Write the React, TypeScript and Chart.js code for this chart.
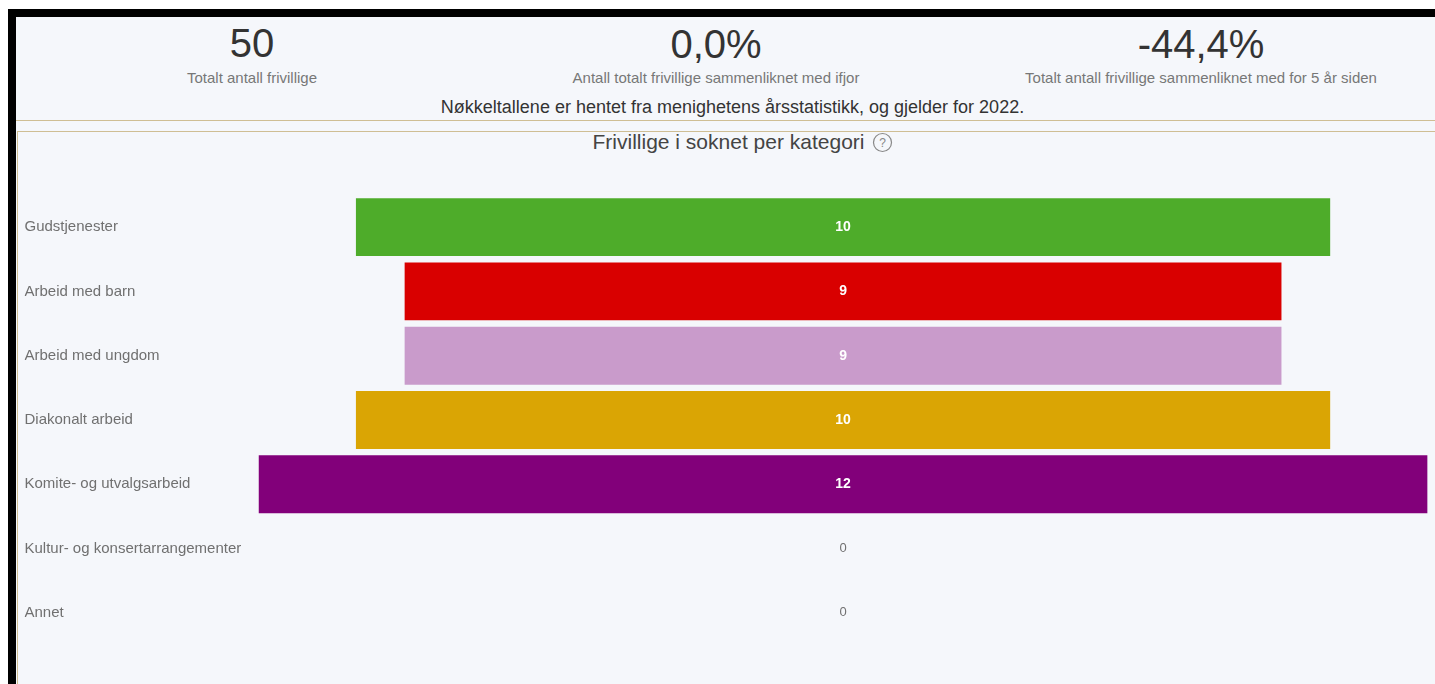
import React, { useEffect, useRef } from "react";
import { Chart, registerables } from "chart.js";

Chart.register(...registerables);

const categories = [
  "Gudstjenester",
  "Arbeid med barn",
  "Arbeid med ungdom",
  "Diakonalt arbeid",
  "Komite- og utvalgsarbeid",
  "Kultur- og konsertarrangementer",
  "Annet",
];
const values = [10, 9, 9, 10, 12, 0, 0];
const barColors = ["#4EAC2A", "#D90000", "#C99BCB", "#DAA504", "#82007A", "#777777", "#777777"];

const kpis = [
  { value: "50", label: "Totalt antall frivillige", x: 252, vy: 43, ly: 77 },
  { value: "0,0%", label: "Antall totalt frivillige sammenliknet med ifjor", x: 716, vy: 44, ly: 77 },
  { value: "-44,4%", label: "Totalt antall frivillige sammenliknet med for 5 år siden", x: 1201, vy: 44, ly: 77 },
];
const note = "Nøkkeltallene er hentet fra menighetens årsstatistikk, og gjelder for 2022.";
const chartTitle = "Frivillige i soknet per kategori";
const FONT = '"Liberation Sans", Arial, sans-serif';

const centeredLabels = {
  id: "centeredLabels",
  afterDatasetsDraw(chart: any) {
    const { ctx } = chart;
    const meta = chart.getDatasetMeta(0);
    ctx.save();
    ctx.textAlign = "center";
    ctx.textBaseline = "middle";
    meta.data.forEach((bar: any, i: number) => {
      const v = values[i];
      ctx.fillStyle = v === 0 ? "#707070" : "#ffffff";
      ctx.font = `${v === 0 ? "normal 13px" : "bold 14px"} ${FONT}`;
      ctx.fillText(String(v), chart.scales.x.getPixelForValue(0), bar.y);
    });
    ctx.restore();
  },
};

function Text({ x, y, size, color, children }: any) {
  return (
    <div
      style={{
        position: "absolute",
        left: x,
        top: y,
        transform: "translate(-50%, -50%)",
        whiteSpace: "nowrap",
        fontSize: size,
        color,
        fontFamily: FONT,
        lineHeight: 1,
      }}
    >
      {children}
    </div>
  );
}

export default function App() {
  const ref = useRef<HTMLCanvasElement | null>(null);

  useEffect(() => {
    document.body.style.margin = "0";
    document.body.style.background = "#ffffff";
    document.body.style.overflow = "hidden";
    const chart = new Chart(ref.current as HTMLCanvasElement, {
      type: "bar",
      data: {
        labels: categories,
        datasets: [
          {
            data: values.map((v) => [-v / 2, v / 2]) as any,
            backgroundColor: barColors,
            borderWidth: 0,
            barPercentage: 0.9,
            categoryPercentage: 1,
          },
        ],
      },
      options: {
        indexAxis: "y",
        animation: false,
        responsive: false,
        maintainAspectRatio: false,
        layout: { padding: { left: 7.5, right: 7.4, top: 63, bottom: 39 } },
        plugins: { legend: { display: false }, tooltip: { enabled: false } },
        scales: {
          x: { display: false, min: -6, max: 6 },
          y: {
            border: { display: false },
            grid: { display: false, drawTicks: false },
            afterFit: (scale: any) => {
              scale.width = 234;
            },
            ticks: {
              crossAlign: "far",
              padding: 0,
              color: "#707070",
              font: { family: FONT, size: 15 },
            },
          },
        },
      },
      plugins: [centeredLabels],
    });
    return () => chart.destroy();
  }, []);

  return (
    <div style={{ position: "relative", width: 1435, height: 684, overflow: "hidden", background: "#fff" }}>
      <div style={{ position: "absolute", left: 8, top: 9, width: 1427, height: 675, background: "#000" }} />
      <div style={{ position: "absolute", left: 16, top: 17, width: 1419, height: 667, background: "#F5F7FB" }} />
      {kpis.map((k) => (
        <React.Fragment key={k.label}>
          <Text x={k.x} y={k.vy} size={40} color="#333333">{k.value}</Text>
          <Text x={k.x} y={k.ly} size={15} color="#777777">{k.label}</Text>
        </React.Fragment>
      ))}
      <Text x={732.5} y={107} size={18} color="#333333">{note}</Text>
      <div style={{ position: "absolute", left: 16, top: 120, width: 1419, height: 1, background: "#CFBE94" }} />
      <div
        style={{
          position: "absolute",
          left: 17,
          top: 131,
          width: 1418,
          height: 553,
          borderTop: "1px solid #CFBE94",
          borderLeft: "1px solid #CFBE94",
          boxSizing: "border-box",
        }}
      />
      <Text x={728.5} y={141} size={21} color="#444444">{chartTitle}</Text>
      <svg style={{ position: "absolute", left: 872, top: 132 }} width="21" height="21" viewBox="0 0 21 21">
        <circle cx="10.5" cy="10.5" r="9" fill="none" stroke="#888888" strokeWidth="1.2" />
        <text x="10.5" y="15" textAnchor="middle" fontSize="12" fontFamily={FONT} fill="#888888">?</text>
      </svg>
      <canvas ref={ref} width={1418} height={552} style={{ position: "absolute", left: 17, top: 132, display: "block" }} />
    </div>
  );
}
